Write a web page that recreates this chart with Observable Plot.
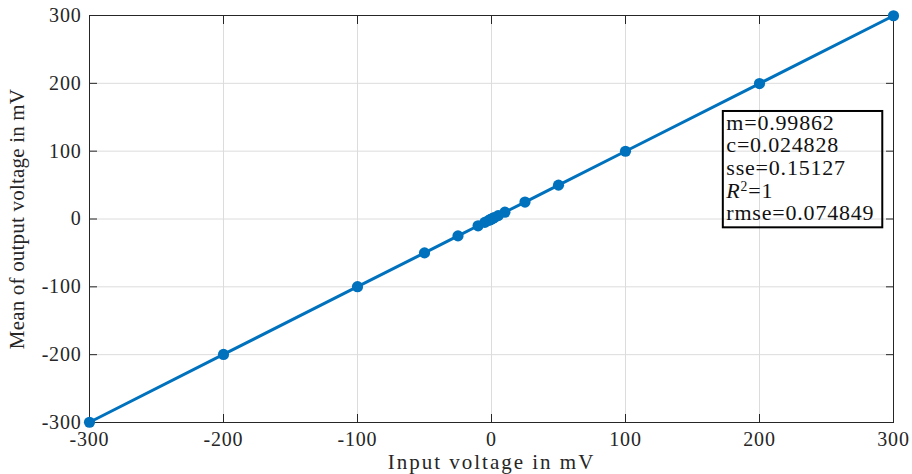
<!DOCTYPE html>
<html>
<head>
<meta charset="utf-8">
<script src="https://cdn.jsdelivr.net/npm/d3@7"></script>
<script src="https://cdn.jsdelivr.net/npm/@observablehq/plot@0.6"></script>
<style>
  body { margin: 0; background: #fff; }
  svg { display: block; }
</style>
</head>
<body>
<div id="chart"></div>
<script>
// Calibration measurements: applied input voltage vs mean measured output (mV)
const inputVoltage = [-300, -200, -100, -50, -25, -10, -5, -2, -1, 0, 1, 2, 5, 10, 25, 50, 100, 200, 300];
const meanOutput   = [-299.6, -199.7, -99.8, -49.9, -24.9, -10.0, -5.0, -2.0, -1.0, 0.0, 1.0, 2.0, 5.0, 10.0, 25.0, 49.9, 99.9, 199.7, 299.6];

// Linear-fit statistics shown in the annotation box
const statNames  = ["m", "c", "sse", "R2", "rmse"];
const statValues = ["0.99862", "0.024828", "0.15127", "1", "0.074849"];

// Axis ticks
const xTicks = [-300, -200, -100, 0, 100, 200, 300];
const yTicks = [-300, -200, -100, 0, 100, 200, 300];

const points = inputVoltage.map((x, i) => ({x, y: meanOutput[i]}));
const statText = statNames.map((n, i) => `${n}=${statValues[i]}`).join("\n");

// Placement of the annotation box, in data units
const boxLayout = {x1: 173, x2: 292, y1: 158.5, y2: -13};

const serif = "'Liberation Serif', 'Times New Roman', serif";
const ink = "#262626";
const blue = "#0072BD";
const fmt = d => String(d);
const blank = () => "";

const plot = Plot.plot({
  width: 912,
  height: 474,
  marginLeft: 89,
  marginRight: 19,
  marginTop: 15,
  marginBottom: 52,
  style: {fontFamily: serif, background: "#fff", color: ink},
  x: {domain: [-300, 300], label: null},
  y: {domain: [-300, 300], label: null},
  marks: [
    Plot.gridX(xTicks, {stroke: "#dcdcdc", strokeOpacity: 1}),
    Plot.gridY(yTicks, {stroke: "#dcdcdc", strokeOpacity: 1}),
    // inward tick marks on all four sides
    Plot.axisX(xTicks, {anchor: "bottom", tickSize: -8, tickFormat: blank, stroke: ink, label: null}),
    Plot.axisX(xTicks, {anchor: "top", tickSize: -8, tickFormat: blank, stroke: ink, label: null}),
    Plot.axisY(yTicks, {anchor: "left", tickSize: -8, tickFormat: blank, stroke: ink, label: null}),
    Plot.axisY(yTicks, {anchor: "right", tickSize: -8, tickFormat: blank, stroke: ink, label: null}),
    // tick labels and axis titles
    Plot.axisX(xTicks, {
      anchor: "bottom", tickSize: 0, tickPadding: 9, tickFormat: fmt,
      fontSize: 20, fill: ink,
      label: "Input voltage in mV", labelAnchor: "center", labelArrow: "none", labelOffset: 46
    }),
    Plot.axisY(yTicks, {
      anchor: "left", tickSize: 0, tickPadding: 8, tickFormat: fmt,
      fontSize: 20, fill: ink,
      label: "Mean of output voltage in mV", labelAnchor: "center", labelArrow: "none", labelOffset: 80
    }),
    Plot.frame({stroke: ink, strokeWidth: 1}),
    Plot.line(points, {x: "x", y: "y", stroke: blue, strokeWidth: 3}),
    Plot.dot(points, {x: "x", y: "y", r: 5.6, fill: blue, stroke: "none"}),
    Plot.rect([boxLayout], {x1: "x1", x2: "x2", y1: "y1", y2: "y2", fill: "none", stroke: "#000", strokeWidth: 2}),
    Plot.text([boxLayout], {
      x: "x1", y: "y1", text: () => statText,
      textAnchor: "start", lineAnchor: "top", lineHeight: 1.03,
      dx: 3, dy: 2, fontSize: 22, fill: "#111", fontFamily: serif
    })
  ]
});

const svg = d3.select(plot);
// Slightly wider tick labels and annotation text
svg.selectAll("[aria-label='x-axis tick label'] text, [aria-label='y-axis tick label'] text")
  .attr("letter-spacing", "0.8px");
svg.selectAll("[aria-label='text'] text").attr("letter-spacing", "0.8px");

// Typeset R² with an italic R and a superscript 2
svg.selectAll("tspan").filter(function () { return this.textContent === "R2=1"; }).each(function () {
  const t = d3.select(this);
  t.text("");
  t.append("tspan").attr("font-style", "italic").text("R");
  t.append("tspan").attr("font-size", "0.62em").attr("baseline-shift", "super").text("2");
  t.append("tspan").text("=1");
});
// Axis titles
svg.selectAll("[aria-label='x-axis label'] text").attr("font-size", 21).attr("letter-spacing", "2px");
svg.selectAll("[aria-label='y-axis label'] text").attr("font-size", 21).attr("letter-spacing", "0.2px");

document.getElementById("chart").appendChild(plot);
</script>
</body>
</html>
